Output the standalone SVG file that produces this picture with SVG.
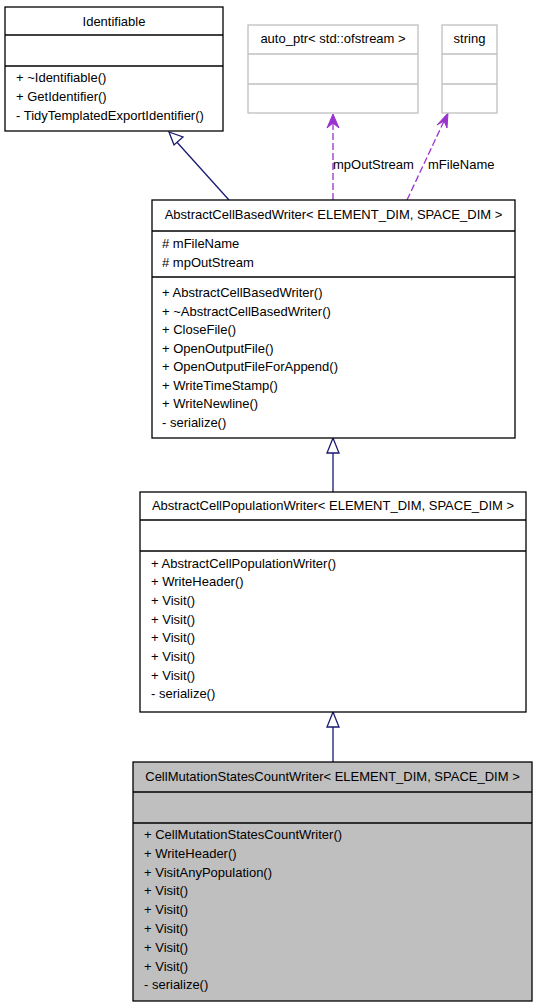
<svg xmlns="http://www.w3.org/2000/svg" width="537" height="1008" viewBox="0 0 537 1008">
<style>
text{font-family:"Liberation Sans",Arial,sans-serif;font-size:13px;fill:#000}
.c{text-anchor:middle}
.box{fill:#fff;stroke:#000;stroke-width:1.3}
.gbox{fill:#fff;stroke:#bfbfbf;stroke-width:1.3}
.sel{fill:#bfbfbf;stroke:#000;stroke-width:1.3}
.inh{fill:none;stroke:#191970;stroke-width:1.3}
.tri{fill:#fff;stroke:#191970;stroke-width:1.3}
.use{fill:none;stroke:#9a32cd;stroke-width:1.3;stroke-dasharray:7,3}
.vee{fill:#9a32cd;stroke:#9a32cd;stroke-width:1}
</style>
<rect width="537" height="1008" fill="#fff"/>
<g id="connectors">
<line class="inh" x1="229" y1="200" x2="175" y2="140"/>
<polygon class="tri" points="169,132 183,137 174,145"/>
<line class="inh" x1="333" y1="492" x2="333" y2="453"/>
<polygon class="tri" points="333,438 339,453 327,453"/>
<line class="inh" x1="333" y1="762" x2="333" y2="727"/>
<polygon class="tri" points="333,712 339,727 327,727"/>
<line class="use" x1="333" y1="200" x2="333" y2="120"/>
<polygon class="vee" points="333,114 339,128 333,123 327,128"/>
<text x="333" y="169">mpOutStream</text>
<line class="use" x1="407" y1="200" x2="445" y2="119"/>
<polygon class="vee" points="448,113 447,128 444,121 437,125"/>
<text x="428" y="169">mFileName</text>
</g>
<g id="Identifiable">
<rect class="box" x="5" y="7" width="218" height="124"/>
<line class="box" x1="5" y1="35" x2="223" y2="35"/>
<line class="box" x1="5" y1="66" x2="223" y2="66"/>
<text class="c" x="114" y="26">Identifiable</text>
<text x="16" y="82">+ ~Identifiable()</text>
<text x="16" y="101">+ GetIdentifier()</text>
<text x="16" y="120">- TidyTemplatedExportIdentifier()</text>
</g>
<g id="auto_ptr">
<rect class="gbox" x="248" y="25" width="170" height="88"/>
<line class="gbox" x1="248" y1="54" x2="418" y2="54"/>
<line class="gbox" x1="248" y1="84" x2="418" y2="84"/>
<text class="c" x="333" y="43">auto_ptr&lt; std::ofstream &gt;</text>
</g>
<g id="string">
<rect class="gbox" x="442" y="25" width="55" height="88"/>
<line class="gbox" x1="442" y1="54" x2="497" y2="54"/>
<line class="gbox" x1="442" y1="84" x2="497" y2="84"/>
<text class="c" x="469.5" y="43">string</text>
</g>
<g id="AbstractCellBasedWriter">
<rect class="box" x="152" y="200" width="363" height="238"/>
<line class="box" x1="152" y1="231" x2="515" y2="231"/>
<line class="box" x1="152" y1="277" x2="515" y2="277"/>
<text class="c" x="333.5" y="219">AbstractCellBasedWriter&lt; ELEMENT_DIM, SPACE_DIM &gt;</text>
<text x="162" y="248"># mFileName</text>
<text x="162" y="267"># mpOutStream</text>
<text x="162" y="297">+ AbstractCellBasedWriter()</text>
<text x="162" y="316">+ ~AbstractCellBasedWriter()</text>
<text x="162" y="334">+ CloseFile()</text>
<text x="162" y="353">+ OpenOutputFile()</text>
<text x="162" y="371">+ OpenOutputFileForAppend()</text>
<text x="162" y="390">+ WriteTimeStamp()</text>
<text x="162" y="408">+ WriteNewline()</text>
<text x="162" y="427">- serialize()</text>
</g>
<g id="AbstractCellPopulationWriter">
<rect class="box" x="140" y="492" width="386" height="220"/>
<line class="box" x1="140" y1="520" x2="526" y2="520"/>
<line class="box" x1="140" y1="551" x2="526" y2="551"/>
<text class="c" x="333" y="510">AbstractCellPopulationWriter&lt; ELEMENT_DIM, SPACE_DIM &gt;</text>
<text x="151" y="568">+ AbstractCellPopulationWriter()</text>
<text x="151" y="586">+ WriteHeader()</text>
<text x="151" y="605">+ Visit()</text>
<text x="151" y="624">+ Visit()</text>
<text x="151" y="642">+ Visit()</text>
<text x="151" y="661">+ Visit()</text>
<text x="151" y="680">+ Visit()</text>
<text x="151" y="698">- serialize()</text>
</g>
<g id="CellMutationStatesCountWriter">
<rect class="sel" x="133" y="762" width="399" height="239"/>
<line class="sel" x1="133" y1="792" x2="532" y2="792"/>
<line class="sel" x1="133" y1="823" x2="532" y2="823"/>
<text class="c" x="332.5" y="781">CellMutationStatesCountWriter&lt; ELEMENT_DIM, SPACE_DIM &gt;</text>
<text x="144" y="839">+ CellMutationStatesCountWriter()</text>
<text x="144" y="858">+ WriteHeader()</text>
<text x="144" y="877">+ VisitAnyPopulation()</text>
<text x="144" y="895">+ Visit()</text>
<text x="144" y="914">+ Visit()</text>
<text x="144" y="933">+ Visit()</text>
<text x="144" y="952">+ Visit()</text>
<text x="144" y="971">+ Visit()</text>
<text x="144" y="989">- serialize()</text>
</g>
</svg>
